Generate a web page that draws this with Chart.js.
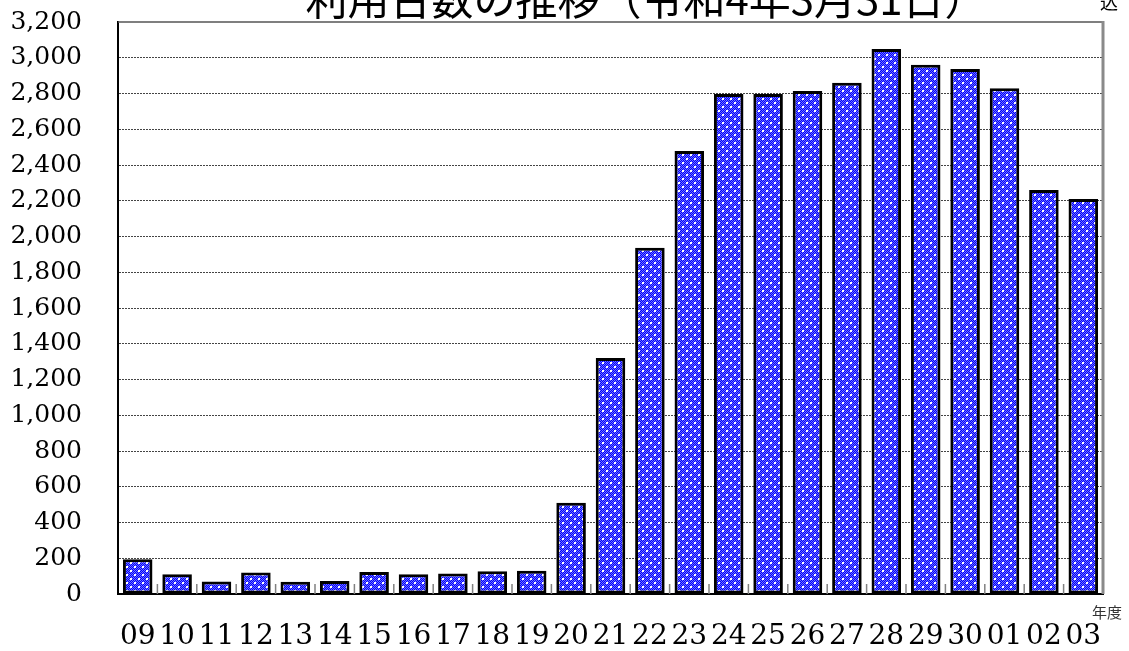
<!DOCTYPE html>
<html>
<head>
<meta charset="utf-8">
<script src="https://cdn.jsdelivr.net/npm/chart.js@4.4.1/dist/chart.umd.min.js"></script>
<style>
    html, body { margin: 0; padding: 0; background: #ffffff; }
    #wrap { width: 1129px; height: 651px; position: relative; }
</style>
</head>
<body>
<div id="wrap"><canvas id="riyouChart"></canvas></div>
<script>
// 年度 (平成09〜30, 令和01〜03)
const nendo = ["09", "10", "11", "12", "13", "14", "15", "16", "17", "18", "19", "20",
    "21", "22", "23", "24", "25", "26", "27", "28", "29", "30", "01", "02", "03"];

// 利用台数
const daisu = [195, 110, 70, 120, 68, 73, 123, 110, 115, 127, 130, 510,
    1320, 1937, 2478, 2797, 2797, 2814, 2860, 3049, 2961, 2937, 2829, 2260, 2210];

const yMin = 0;
const yMax = 3200;
const yStep = 200;

const titleText = "利用台数の推移（令和4年3月31日）";
const cornerText = "込";
const unitText = "年度";

// 青地に白の網点パターン
function makePattern() {
    const p = document.createElement("canvas");
    p.width = 8;
    p.height = 8;
    const c = p.getContext("2d");
    c.fillStyle = "#0000ff";
    c.fillRect(0, 0, 8, 8);
    c.fillStyle = "#7070ff";
    for (let yy = 0; yy < 8; yy++) {
        for (let xx = yy % 2; xx < 8; xx += 2) {
            c.fillRect(xx, yy, 1, 1);
        }
    }
    c.fillStyle = "#ffffff";
    c.fillRect(2, 2, 2, 2);
    c.fillRect(6, 6, 2, 2);
    return document.getElementById("riyouChart").getContext("2d").createPattern(p, "repeat");
}

const extrasPlugin = {
    id: "extras",
    beforeDatasetsDraw(chart) {
        const ctx = chart.ctx;
        const a = chart.chartArea;
        const x = chart.scales.x;
        ctx.save();
        // 目盛り（区切り）
        ctx.strokeStyle = "#808080";
        ctx.lineWidth = 1.5;
        for (let i = 1; i < nendo.length; i++) {
            const px = (x.getPixelForValue(i - 1) + x.getPixelForValue(i)) / 2;
            ctx.beginPath();
            ctx.moveTo(px, a.bottom);
            ctx.lineTo(px, a.bottom - 10);
            ctx.stroke();
        }
        ctx.restore();
    },
    afterDraw(chart) {
        const ctx = chart.ctx;
        const a = chart.chartArea;
        ctx.save();
        // 上・右の枠
        ctx.strokeStyle = "#555555";
        ctx.lineWidth = 1.5;
        ctx.beginPath();
        ctx.moveTo(a.left, a.top);
        ctx.lineTo(a.right, a.top);
        ctx.stroke();
        ctx.strokeStyle = "#8a8a8a";
        ctx.lineWidth = 3;
        ctx.beginPath();
        ctx.moveTo(a.right, a.top - 1);
        ctx.lineTo(a.right, a.bottom);
        ctx.stroke();

        ctx.fillStyle = "#000000";
        ctx.font = "42px 'Noto Sans CJK JP'";
        ctx.textAlign = "center";
        ctx.textBaseline = "alphabetic";
        ctx.fillText(titleText, 646, 15);

        ctx.font = "18px 'Noto Sans CJK JP'";
        ctx.textAlign = "left";
        ctx.fillText(cornerText, 1100, 9);

        ctx.font = "15px 'Noto Sans CJK JP'";
        ctx.fillStyle = "#333333";
        ctx.textAlign = "right";
        ctx.fillText(unitText, 1122, 618);
        ctx.restore();
    }
};

const chartInstance = new Chart(document.getElementById("riyouChart"), {
    type: "bar",
    data: {
        labels: nendo,
        datasets: [
            {
                label: "利用台数",
                data: daisu,
                backgroundColor: makePattern(),
                borderColor: "#000000",
                borderWidth: 3,
                borderSkipped: false,
                barPercentage: 0.75,
                categoryPercentage: 1.0,
            },
        ],
    },
    options: {
        responsive: true,
        maintainAspectRatio: false,
        animation: false,
        layout: {
            padding: { top: 22, right: 26, bottom: 0, left: 0 },
        },
        plugins: {
            legend: { display: false },
            tooltip: { enabled: false },
            title: { display: false },
        },
        scales: {
            x: {
                grid: { display: false, drawTicks: false },
                border: { display: true, color: "#000000", width: 2 },
                ticks: {
                    color: "#000000",
                    font: { family: "'DejaVu Serif'", size: 28 },
                    padding: 26,
                    maxRotation: 0,
                    autoSkip: false,
                },
                afterFit: function (scale) {
                    scale.height = 57;
                },
            },
            y: {
                min: yMin,
                max: yMax,
                grid: {
                    color: function (context) {
                        const v = context.tick.value;
                        return (v === yMin || v === yMax) ? "rgba(0,0,0,0)" : "#444444";
                    },
                    lineWidth: 1,
                    drawTicks: false,
                },
                border: { display: true, color: "#000000", width: 2, dash: [2, 1] },
                ticks: {
                    stepSize: yStep,
                    color: "#000000",
                    font: { family: "'DejaVu Serif'", size: 25 },
                    padding: 36,
                    callback: function (value) {
                        return Number(value).toLocaleString("en-US");
                    },
                },
                afterFit: function (scale) {
                    scale.width = 118;
                    scale.paddingTop = 0;
                    scale.paddingBottom = 0;
                },
            },
        },
    },
    plugins: [extrasPlugin],
});
</script>
</body>
</html>
